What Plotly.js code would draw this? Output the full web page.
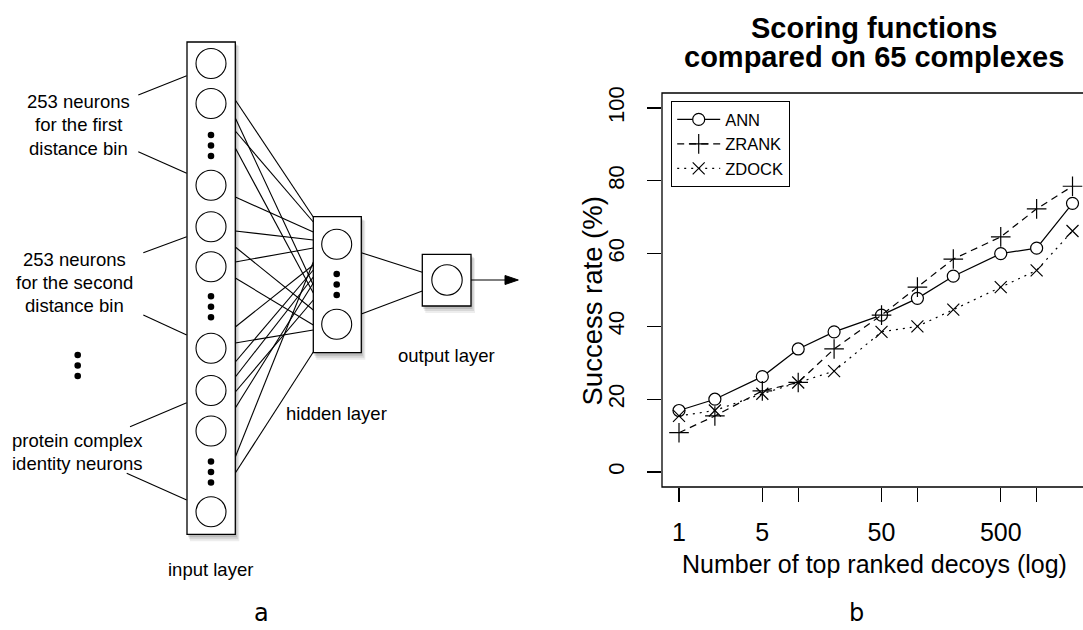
<!DOCTYPE html>
<html>
<head>
<meta charset="utf-8">
<script src="https://cdn.plot.ly/plotly-3.0.1.min.js"></script>
<style>html,body{margin:0;padding:0;background:#fff;}#chart{width:1083px;height:630px;}</style>
</head>
<body>
<div id="chart"></div>
<script>
// ---- chart data (panel b) ----
const decoys = [1, 2, 5, 10, 20, 50, 100, 200, 500, 1000, 2000];
const annRate = [16.9, 20.0, 26.2, 33.8, 38.5, 43.1, 47.7, 53.8, 60.0, 61.5, 73.8];
const zrankRate = [10.8, 15.4, 22.3, 24.6, 33.8, 43.1, 50.8, 58.5, 64.6, 72.3, 78.5];
const zdockRate = [15.4, 16.9, 21.5, 24.6, 27.7, 38.5, 40.0, 44.6, 50.8, 55.4, 66.2];
const seriesNames = ["ANN", "ZRANK", "ZDOCK"];
const xTickVals = [1, 5, 10, 50, 100, 500, 1000];
const xTickText = ["1", "5", "", "50", "", "500", ""];
const yTickVals = [0, 20, 40, 60, 80, 100];

// ---- diagram labels (panel a) ----
const firstBinLabel = ["253 neurons", "for the first", "distance bin"];
const secondBinLabel = ["253 neurons", "for the second", "distance bin"];
const identityLabel = ["protein complex", "identity neurons"];
const layerLabels = ["input layer", "hidden layer", "output layer"];

const W = 1083, H = 630;
const X = px => px / W;
const Y = py => 1 - py / H;
const FONT = "Liberation Sans, Arial, Helvetica, sans-serif";

const shapes = [];
const annotations = [];

function line(x0, y0, x1, y1, w) {
  shapes.push({type: "line", xref: "paper", yref: "paper", x0: X(x0), y0: Y(y0), x1: X(x1), y1: Y(y1),
    line: {color: "black", width: w || 1.1}});
}
function rect(x0, y0, x1, y1, fill, lw) {
  shapes.push({type: "rect", xref: "paper", yref: "paper", x0: X(x0), y0: Y(y0), x1: X(x1), y1: Y(y1),
    fillcolor: fill, line: lw ? {color: "black", width: lw} : {width: 0}});
}
function circle(cx, cy, r, fill, lw) {
  shapes.push({type: "circle", xref: "paper", yref: "paper", x0: X(cx - r), y0: Y(cy + r), x1: X(cx + r), y1: Y(cy - r),
    fillcolor: fill, line: lw ? {color: "black", width: lw} : {width: 0}});
}
function shadow(x0, y0, x1, y1) {
  rect(x0 + 3, y0 + 4, x1 + 4, y1 + 7, "rgba(0,0,0,0.07)");
  rect(x0 + 2, y0 + 3, x1 + 3, y1 + 5, "rgba(0,0,0,0.09)");
  rect(x0 + 1, y0 + 2, x1 + 1.5, y1 + 3, "rgba(0,0,0,0.12)");
}
function dots(cx, cy) {
  [-10.5, 0, 10.5].forEach(d => circle(cx, cy + d, 3.3, "black", 0));
}
function text(t, cx, cy, size, opts) {
  annotations.push(Object.assign({text: t, xref: "paper", yref: "paper", x: X(cx), y: Y(cy),
    xanchor: "center", yanchor: "middle", showarrow: false,
    font: {family: FONT, size: size, color: "black"}}, opts || {}));
}

// boxes geometry
const inBox = [187, 42, 235.3, 534.3];
const hidBox = [313.3, 216.7, 361.3, 352.7];
const outBox = [422.3, 254.3, 471, 306];

shadow(...inBox); shadow(...hidBox); shadow(...outBox);

// connections input -> hidden
const connStart = [100, 118, 131, 148, 197, 231, 247, 262, 278, 327, 343, 362, 377, 392, 408, 457, 473];
const connEnd   = [217, 285, 222, 293, 232, 240, 310, 248, 325, 265, 330, 270, 277, 300, 283, 262, 352];
connStart.forEach((s, i) => line(inBox[2], s, hidBox[0], connEnd[i]));
// hidden -> output
line(hidBox[2], 252.7, outBox[0], 272.3);
line(hidBox[2], 314, outBox[0], 291);
// leaders
line(138.3, 95, 186.7, 75.7);
line(138.3, 151.7, 186.7, 173.3);
line(143.3, 252.7, 186.7, 236.7);
line(143.3, 315, 186.7, 335);
line(130, 426.7, 186.7, 402.7);
line(126.7, 473.3, 186.7, 500);

// boxes
rect(...inBox, "white", 1.3);
rect(...hidBox, "white", 1.3);
rect(...outBox, "white", 1.3);

// neurons
[63.5, 103.5, 185.3, 226.7, 266.8, 348.3, 390.5, 431, 511.7].forEach(cy => circle(211, cy, 15, "white", 1.1));
dots(211, 145.5); dots(211, 306.8); dots(211, 472);
circle(336.7, 244.3, 15, "white", 1.1);
circle(336.7, 324.3, 15, "white", 1.1);
dots(336.7, 284.5);
circle(447, 280, 15.2, "white", 1.1);
dots(77.7, 365.5);

// output arrow
line(471, 280, 507, 280, 1.2);
shapes.push({type: "path", xref: "paper", yref: "paper",
  path: `M ${X(505)} ${Y(275.5)} L ${X(518.3)} ${Y(280)} L ${X(505)} ${Y(284.5)} Z`,
  fillcolor: "black", line: {color: "black", width: 1}});

// diagram text
const DS = 18.5;
firstBinLabel.forEach((t, i) => text(t, 78, 101.7 + i * 23.3, DS));
secondBinLabel.forEach((t, i) => text(t, 74, 259.3 + i * 22.9, DS));
identityLabel.forEach((t, i) => text(t, 77.5, 440.7 + i * 22.6, DS));
text(layerLabels[0], 210, 569.3, DS);
text(layerLabels[1], 336.7, 413.3, DS);
text(layerLabels[2], 446, 355, DS);
text("a", 261.7, 613, 24, {font: {family: "DejaVu Sans", size: 24, color: "black"}});
text("b", 856.7, 613, 24, {font: {family: "DejaVu Sans", size: 24, color: "black"}});

// chart text
text("<b>Scoring functions</b>", 875, 28.3, 29);
text("<b>compared on 65 complexes</b>", 874, 56.7, 29);
text("Number of top ranked decoys (log)", 874, 564, 25);
text("Success rate (%)", 591.5, 301, 27.5, {textangle: -90});

// plot frame
shapes.push({type: "rect", xref: "paper", yref: "paper", x0: X(662), y0: Y(487), x1: 1.05, y1: Y(93),
  line: {color: "black", width: 1.3}, fillcolor: "rgba(0,0,0,0)", layer: "above"});

const mk = (name, y, dash, symbol, size, fill) => ({
  x: decoys, y: y, name: name, type: "scatter", mode: "lines+markers",
  line: {color: "black", width: 1.2, dash: dash},
  marker: {symbol: symbol, size: size, color: fill, line: {color: "black", width: 1.2}},
  cliponaxis: false
});

const traces = [
  mk(seriesNames[0], annRate, "solid", "circle", 12, "white"),
  mk(seriesNames[1], zrankRate, "7px,5px", "cross-thin-open", 14, "black"),
  mk(seriesNames[2], zdockRate, "2px,5px", "x-thin-open", 12, "black")
];

const layout = {
  width: W, height: H,
  margin: {l: 0, r: 0, t: 0, b: 0},
  paper_bgcolor: "white", plot_bgcolor: "white",
  showlegend: true,
  legend: {x: X(671), y: Y(101), xanchor: "left", yanchor: "top",
    bgcolor: "white", bordercolor: "black", borderwidth: 1.2,
    font: {family: FONT, size: 16.5, color: "black"}, itemwidth: 43},
  xaxis: {type: "log", domain: [X(662), 1], range: [-0.1426, 3.389],
    tickmode: "array", tickvals: xTickVals, ticktext: xTickText,
    ticks: "outside", ticklen: 14, tickwidth: 1.3, tickcolor: "black",
    showline: false, showgrid: false, zeroline: false, automargin: false,
    tickfont: {family: FONT, size: 25, color: "black"}, ticklabelstandoff: 9},
  yaxis: {domain: [Y(487), Y(93)], range: [-4.12, 104.12],
    tickmode: "array", tickvals: yTickVals, tickangle: -90,
    ticks: "outside", ticklen: 14, tickwidth: 1.3, tickcolor: "black",
    showline: false, showgrid: false, zeroline: false, automargin: false,
    tickfont: {family: FONT, size: 22, color: "black"}, ticklabelstandoff: 14},
  shapes: shapes,
  annotations: annotations
};

Plotly.newPlot("chart", traces, layout, {displayModeBar: false, staticPlot: true});
</script>
</body>
</html>
